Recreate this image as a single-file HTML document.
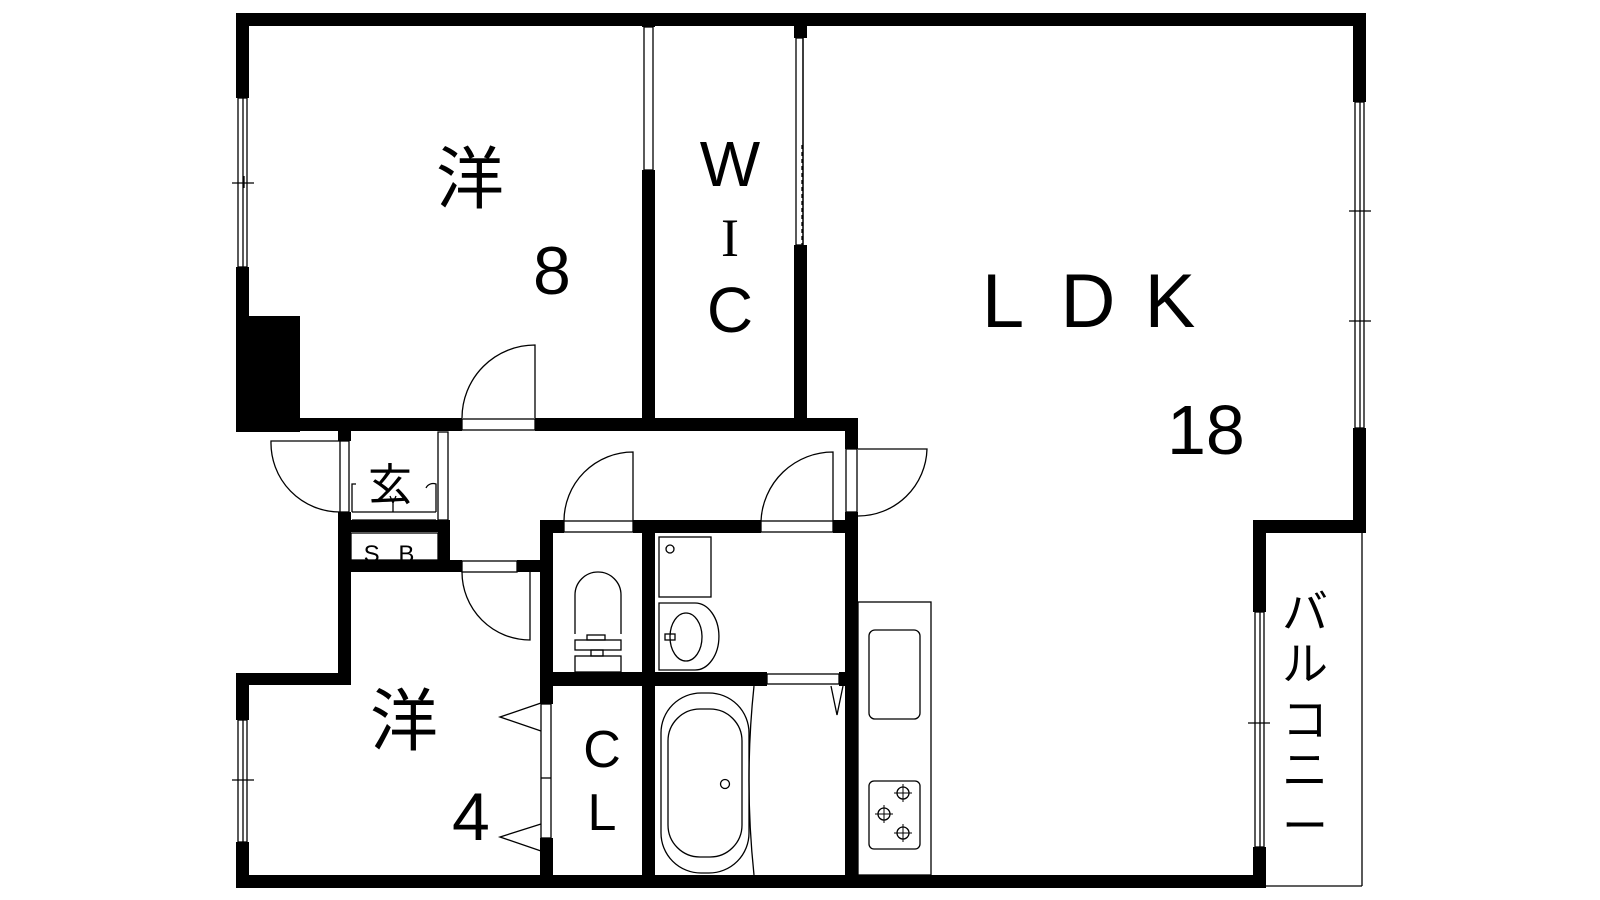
<!DOCTYPE html><html><head><meta charset="utf-8"><style>body{margin:0;background:#fff}svg{display:block}text{font-family:"Liberation Sans","Noto Sans CJK JP",sans-serif;fill:#000}</style></head><body>
<svg width="1600" height="900" viewBox="0 0 1600 900" xmlns="http://www.w3.org/2000/svg">
<g fill="#000">
<rect x="236" y="13" width="1130" height="13"/>
<rect x="236" y="13" width="13" height="85"/>
<rect x="236" y="267" width="13" height="165"/>
<rect x="236" y="316" width="64" height="116"/>
<rect x="236" y="418" width="226" height="13"/>
<rect x="535" y="418" width="323" height="13"/>
<rect x="642" y="170" width="13" height="255"/>
<rect x="642" y="13" width="13" height="14"/>
<rect x="794" y="245" width="13" height="180"/>
<rect x="794" y="13" width="13" height="25"/>
<rect x="1353" y="13" width="13" height="89"/>
<rect x="1353" y="428" width="13" height="104"/>
<rect x="1253" y="520" width="113" height="13"/>
<rect x="1253" y="520" width="13" height="92"/>
<rect x="1253" y="847" width="13" height="41"/>
<rect x="236" y="875" width="1030" height="13"/>
<rect x="338" y="431" width="13" height="10"/>
<rect x="338" y="512" width="13" height="173"/>
<rect x="338" y="520" width="110" height="12"/>
<rect x="438" y="520" width="12" height="52"/>
<rect x="338" y="560" width="124" height="12"/>
<rect x="517" y="560" width="30" height="12"/>
<rect x="236" y="673" width="115" height="12"/>
<rect x="236" y="673" width="13" height="47"/>
<rect x="236" y="842" width="13" height="46"/>
<rect x="540" y="520" width="24" height="13"/>
<rect x="540" y="520" width="13" height="184"/>
<rect x="540" y="838" width="13" height="50"/>
<rect x="633" y="520" width="128" height="13"/>
<rect x="833" y="520" width="25" height="13"/>
<rect x="642" y="520" width="13" height="368"/>
<rect x="540" y="672" width="227" height="14"/>
<rect x="839" y="672" width="19" height="14"/>
<rect x="845" y="418" width="13" height="31"/>
<rect x="845" y="512" width="13" height="376"/>
</g>
<g fill="none" stroke="#000" stroke-width="1.3">
<rect x="238" y="98" width="9" height="169"/><line x1="243" y1="98" x2="243" y2="267"/><line x1="232" y1="183" x2="254" y2="183"/><line x1="244" y1="176" x2="244" y2="188"/>
<rect x="238" y="720" width="9" height="122"/><line x1="243" y1="720" x2="243" y2="842"/><line x1="232" y1="780" x2="254" y2="780"/>
<rect x="1355" y="102" width="9" height="326"/><line x1="1360" y1="102" x2="1360" y2="428"/><line x1="1349" y1="211" x2="1371" y2="211"/><line x1="1349" y1="321" x2="1371" y2="321"/>
<rect x="1255" y="612" width="9" height="235"/><line x1="1260" y1="612" x2="1260" y2="847"/><line x1="1248" y1="723" x2="1270" y2="723"/>
<line x1="1362" y1="533" x2="1362" y2="886"/><line x1="1266" y1="886" x2="1362" y2="886"/>
<rect x="644" y="27" width="9" height="143"/>
<rect x="796" y="38" width="7" height="207"/><line x1="803" y1="38" x2="803" y2="245"/>
<line x1="802" y1="145" x2="802" y2="245" stroke-dasharray="4 3"/>
<rect x="462" y="419" width="73" height="11"/><path d="M535 418 V345 A73 73 0 0 0 462 418"/>
<rect x="340" y="441" width="9" height="71"/><path d="M340 441 H271 A69 69 0 0 0 340 512"/>
<rect x="438" y="432" width="10" height="88"/>
<path d="M352 512 V484 H356 M436 512 V484 A8 8 0 0 0 426 488"/>
<line x1="352" y1="512" x2="436" y2="512"/><line x1="352" y1="520" x2="436" y2="520"/>
<path d="M393 512 V503 M393 503 L390 496 M393 503 L396 496"/>
<rect x="351" y="533" width="87" height="27"/>
<rect x="462" y="561" width="55" height="11"/><path d="M462 572 A68 68 0 0 0 530 640 V572"/>
<rect x="564" y="521" width="69" height="11"/><path d="M564 521 A69 69 0 0 1 633 452 V521"/>
<rect x="761" y="521" width="72" height="11"/><path d="M761 521 A72 72 0 0 1 833 452 V521"/>
<rect x="846" y="449" width="11" height="63"/><path d="M858 449 H927 A69 69 0 0 1 858 516"/>
<path d="M575 634 V595 A23 23 0 0 1 621 595 V634"/><rect x="575" y="640" width="46" height="10"/><rect x="587" y="635" width="18" height="5"/><rect x="591" y="650" width="12" height="6"/><rect x="575" y="656" width="46" height="16"/>
<rect x="659" y="537" width="52" height="60"/><circle cx="670" cy="549" r="4"/>
<path d="M659 603 H695 A20 28 0 0 1 695 670 H659 Z"/><ellipse cx="686" cy="637" rx="16" ry="24"/><rect x="665" y="634" width="10" height="6"/>
<rect x="767" y="674" width="72" height="10"/><path d="M831 686 L837 715 L843 686"/>
<rect x="661" y="693" width="88" height="180" rx="40"/><rect x="668" y="709" width="74" height="148" rx="32"/><circle cx="725" cy="784" r="4.5"/>
<path d="M754 686 Q744 780 754 875"/>
<rect x="541" y="704" width="10" height="134"/><line x1="541" y1="778" x2="551" y2="778"/>
<path d="M541 703 L500 717 L541 731 M541 824 L500 837 L541 851"/>
<rect x="858" y="602" width="73" height="273"/><rect x="869" y="630" width="51" height="89" rx="6"/><rect x="869" y="781" width="51" height="68" rx="5"/>
<circle cx="903" cy="793" r="6"/><circle cx="884" cy="814" r="6"/><circle cx="903" cy="833" r="6"/>
<path d="M903 784v18M894 793h18M884 805v18M875 814h18M903 824v18M894 833h18" stroke-width="1"/>
</g>
<g font-size="68" style="font-family:'Noto Sans CJK JP',sans-serif">
<text x="436" y="203">洋</text>
<text x="370" y="745">洋</text>
</g>
<text x="533" y="294" font-size="68">8</text>
<text x="452" y="840" font-size="68">4</text>
<text x="730" y="186" font-size="64" text-anchor="middle">W</text>
<text x="730" y="256" font-size="54" text-anchor="middle" style="font-family:'Liberation Serif',serif">I</text>
<text x="730" y="332" font-size="64" text-anchor="middle">C</text>
<g font-size="76" text-anchor="middle">
<text x="1003" y="327">L</text><text x="1088" y="327">D</text><text x="1170" y="327">K</text>
</g>
<text x="1167" y="454" font-size="70">18</text>
<text x="602" y="767" font-size="52" text-anchor="middle">C</text>
<text x="602" y="830" font-size="52" text-anchor="middle">L</text>
<text x="390" y="500" font-size="44" text-anchor="middle" style="font-family:'Noto Sans CJK JP',sans-serif">玄</text>
<text x="392" y="562" font-size="24" text-anchor="middle" letter-spacing="6">S B</text>
<g font-size="46" text-anchor="middle" style="font-family:'Noto Sans CJK JP',sans-serif">
<text x="1305" y="628">バ</text><text x="1305" y="680">ル</text><text x="1305" y="736">コ</text><text x="1305" y="786">ニ</text><text x="1305" y="842">ー</text>
</g>
</svg></body></html>
